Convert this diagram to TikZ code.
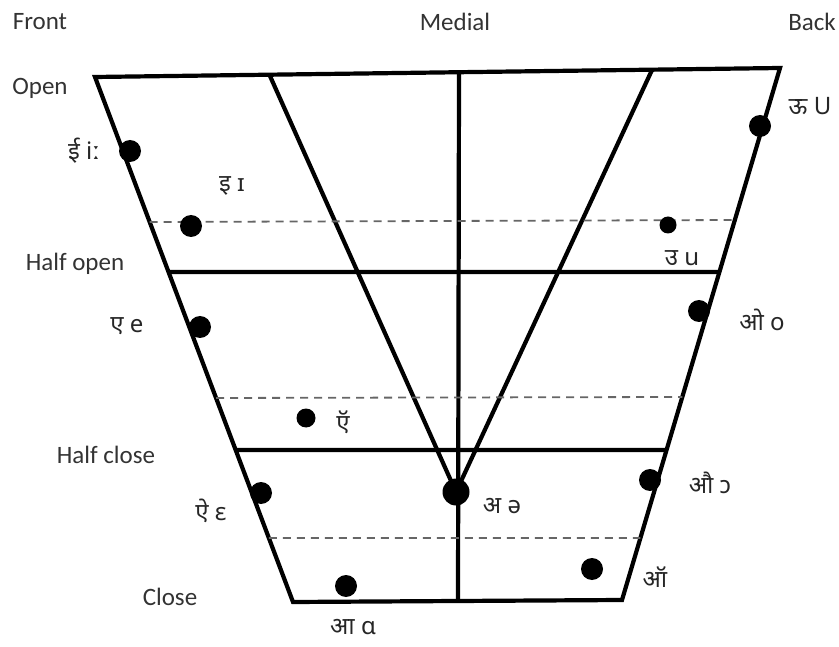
\documentclass[tikz,border=0pt]{standalone}
\usepackage{fontspec}
\setmainfont{Carlito}
\newfontfamily\deva[Script=Devanagari]{Noto Sans}
\usetikzlibrary{calc}

\begin{document}
\begin{tikzpicture}[x=1pt, y=-1pt,
  frame/.style={line width=4.2pt, line join=miter},
  guide/.style={line width=1.8pt, dash pattern=on 8pt off 6pt, color=black!60},
  vowel/.style={circle, fill=black, minimum size=22pt, inner sep=0pt},
  tag/.style={font=\deva\fontsize{24}{24}\selectfont, text=black!85, inner sep=1pt},
  level/.style={font=\fontsize{25}{25}\selectfont, text=black!80, inner sep=1pt},
]
  \useasboundingbox (0,0) rectangle (839,647);

  % corners of the chart
  \coordinate (tl) at (95,77);
  \coordinate (tr) at (780,68);
  \coordinate (bl) at (293,602);
  \coordinate (br) at (622,600);
  \coordinate (mt) at (459,72);
  \coordinate (mb) at (458,601);
  \coordinate (vl) at (270,76);
  \coordinate (vr) at (652,70);
  \coordinate (apex) at (456,492);

  % outline and medial line
  \draw[frame] (tl) -- (tr) -- (br) -- (bl) -- cycle;
  \draw[frame] (mt) -- (mb);
  \draw[frame] (vl) -- (apex) -- (vr);

  % half open, half close
  \draw[frame] ($(tl)!0.3714!(bl)$) -- ($(tr)!0.3835!(br)$);
  \draw[frame] ($(tl)!0.7105!(bl)$) -- ($(tr)!0.7180!(br)$);

  % dashed guides
  \draw[guide] ($(tl)!0.2762!(bl)$) -- ($(tr)!0.2857!(br)$);
  \draw[guide] ($(tl)!0.6114!(bl)$) -- ($(tr)!0.6184!(br)$);
  \draw[guide] ($(tl)!0.8781!(bl)$) -- ($(tr)!0.8835!(br)$);

  % row and column names
  \node[level] (front) at (40,22) {Front};
  \node[level] (medial) at (455,22) {Medial};
  \node[level] (back) at (812,22) {Back};
  \node[level] (open) at (40,88) {Open};
  \node[level] (halfopen) at (75,264) {Half open};
  \node[level] (halfclose) at (106,455) {Half close};
  \node[level] (close) at (170,597) {Close};

  % vowels
  \node[vowel] (ii) at (130,151) {};
  \node[vowel] (i) at (191,226) {};
  \node[vowel, minimum size=17pt] (u) at (668,225) {};
  \node[vowel] (uu) at (760,126) {};
  \node[vowel] (e) at (200,327) {};
  \node[vowel] (o) at (699,311) {};
  \node[vowel, minimum size=19pt] (ae) at (306,418) {};
  \node[vowel] (ai) at (261,493) {};
  \node[vowel, minimum size=27pt] (schwa) at (456,492) {};
  \node[vowel] (au) at (650,480) {};
  \node[vowel] (aw) at (592,569) {};
  \node[vowel] (aa) at (346,586) {};

  % vowel labels
  \node[tag] at (84,151) {ई iː};
  \node[tag] at (232,186) {इ ɪ};
  \node[tag] at (682,258) {उ u};
  \node[tag] at (810,106) {ऊ U};
  \node[tag] at (127,326) {ए e};
  \node[tag] at (762,320) {ओ o};
  \node[tag] at (343,422) {ऍ};
  \node[tag] at (211,511) {ऐ ɛ};
  \node[tag] at (502,506) {अ ə};
  \node[tag] at (710,483) {औ ɔ};
  \node[tag] at (655,577) {ऑ};
  \node[tag] at (353,627) {आ ɑ};
\end{tikzpicture}
\end{document}
